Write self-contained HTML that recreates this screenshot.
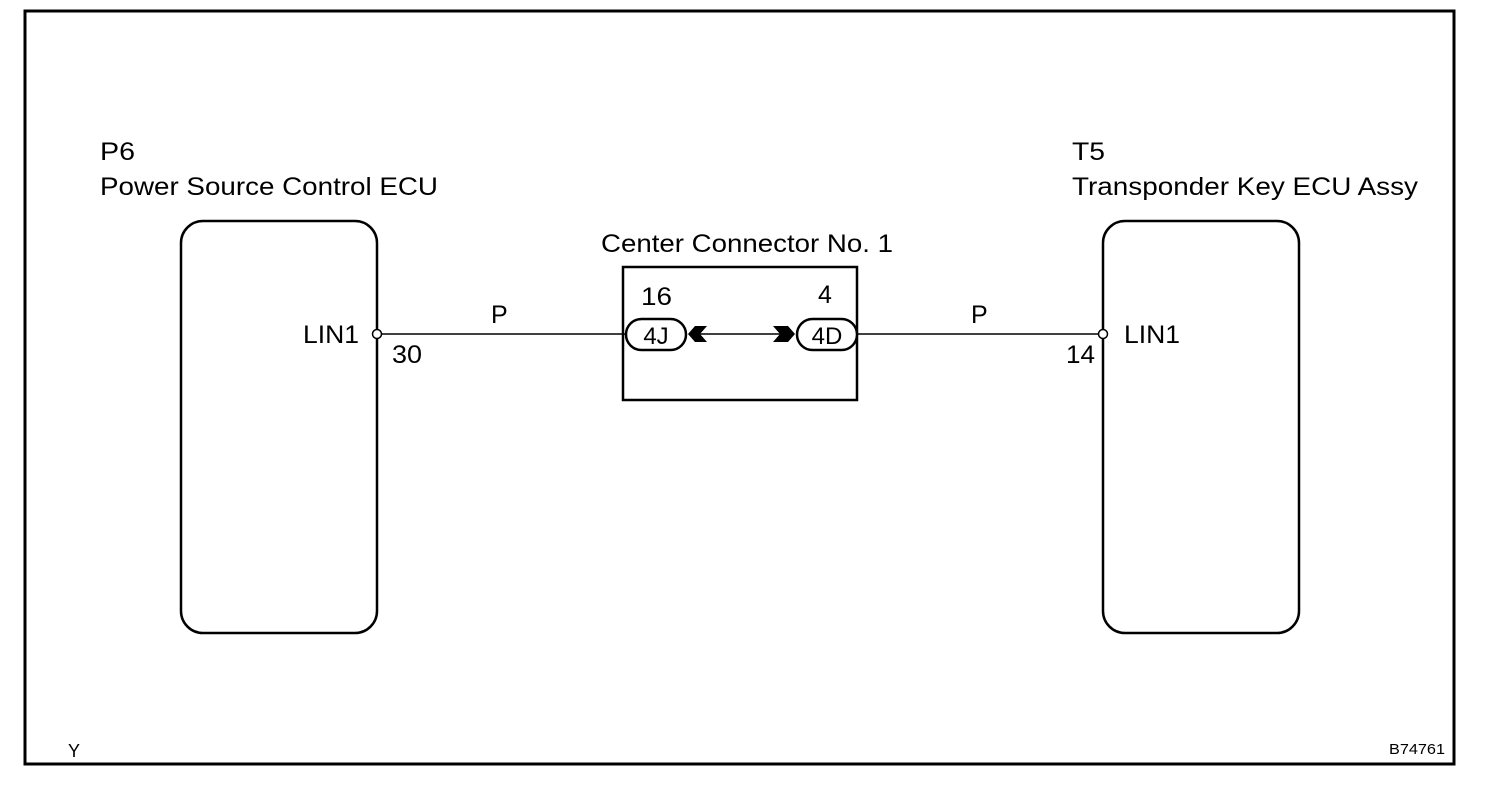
<!DOCTYPE html>
<html><head><style>
body{margin:0;background:#fff}
svg text{font-family:"Liberation Sans",Arial,sans-serif;fill:#000}
</style></head><body>
<svg width="1504" height="784" viewBox="0 0 1504 784" xmlns="http://www.w3.org/2000/svg">
<rect x="25" y="11" width="1429" height="753" fill="none" stroke="#000" stroke-width="3"/>
<rect x="181" y="221" width="196" height="412" rx="22" fill="none" stroke="#000" stroke-width="2.5"/>
<rect x="1103" y="221" width="196" height="412" rx="22" fill="none" stroke="#000" stroke-width="2.5"/>
<rect x="623" y="267" width="234" height="133" fill="none" stroke="#000" stroke-width="2.5"/>
<line x1="381" y1="334" x2="626" y2="334" stroke="#000" stroke-width="1.5"/>
<line x1="857" y1="334" x2="1099" y2="334" stroke="#000" stroke-width="1.5"/>
<line x1="700" y1="334" x2="780" y2="334" stroke="#000" stroke-width="1.5"/>
<circle cx="377" cy="334" r="4.5" fill="#fff" stroke="#000" stroke-width="1.5"/>
<circle cx="1103" cy="334" r="4.5" fill="#fff" stroke="#000" stroke-width="1.5"/>
<rect x="626" y="319" width="60" height="31" rx="15.5" fill="#fff" stroke="#000" stroke-width="2.5"/>
<rect x="797" y="319" width="60" height="31" rx="15.5" fill="#fff" stroke="#000" stroke-width="2.5"/>
<polygon points="688,334 695,326 707,326 700,334 707,342 695,342" fill="#000"/>
<polygon points="795,334 788,326 773,326 780,334 773,342 788,342" fill="#000"/>
<text x="100" y="160" font-size="25" textLength="35" lengthAdjust="spacingAndGlyphs">P6</text>
<text x="100" y="195" font-size="25" textLength="338" lengthAdjust="spacingAndGlyphs">Power Source Control ECU</text>
<text x="1072" y="160" font-size="25" textLength="33" lengthAdjust="spacingAndGlyphs">T5</text>
<text x="1072" y="195" font-size="25" textLength="346" lengthAdjust="spacingAndGlyphs">Transponder Key ECU Assy</text>
<text x="601" y="252" font-size="25" textLength="292" lengthAdjust="spacingAndGlyphs">Center Connector No. 1</text>
<text x="303" y="343" font-size="25" textLength="56" lengthAdjust="spacingAndGlyphs">LIN1</text>
<text x="392" y="363" font-size="25" textLength="30" lengthAdjust="spacingAndGlyphs">30</text>
<text x="1124" y="343" font-size="25" textLength="56" lengthAdjust="spacingAndGlyphs">LIN1</text>
<text x="1066" y="363" font-size="25" textLength="29" lengthAdjust="spacingAndGlyphs">14</text>
<text x="491" y="323" font-size="25">P</text>
<text x="971" y="323" font-size="25">P</text>
<text x="641" y="305" font-size="25" textLength="31" lengthAdjust="spacingAndGlyphs">16</text>
<text x="818" y="303" font-size="25">4</text>
<text x="656" y="344" font-size="24" text-anchor="middle">4J</text>
<text x="827" y="344" font-size="24" text-anchor="middle">4D</text>
<text x="68" y="757" font-size="18">Y</text>
<text x="1389" y="754" font-size="15" textLength="56" lengthAdjust="spacingAndGlyphs">B74761</text>
</svg>
</body></html>
